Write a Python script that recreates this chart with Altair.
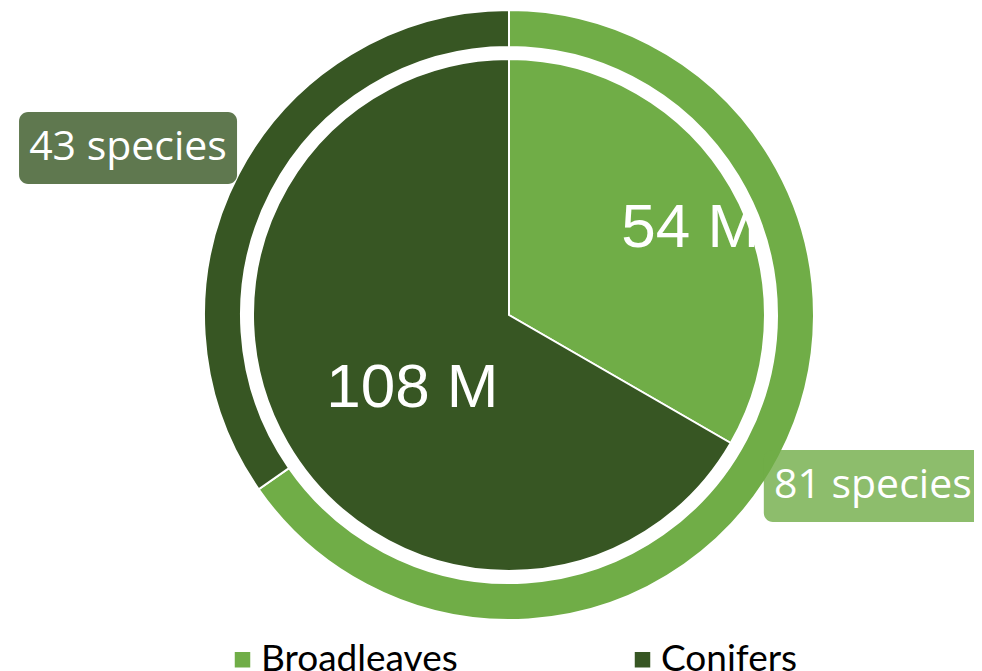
import altair as alt
import pandas as pd

# ---- data ----
categories = ["Broadleaves", "Conifers"]
volume_m = [54, 108]          # inner pie (millions)
species_n = [81, 43]          # outer ring (number of species)
colors = ["#70AD47", "#375623"]

# ---- layout constants ----
W, H = 930, 614
CX, CY = W / 2, H / 2

inner = pd.DataFrame({"category": categories, "volume": volume_m})
outer = pd.DataFrame({"category": categories, "species": species_n})

legend = alt.Legend(
    orient="none", legendX=180, legendY=633, direction="horizontal",
    title=None, symbolType="square", symbolSize=240, symbolStrokeWidth=0,
    labelFont="Lato", labelFontSize=37, labelColor="#000000",
    labelLimit=500, labelOffset=0, columnPadding=166,
)
color = alt.Color("category:N", scale=alt.Scale(domain=categories, range=colors), legend=legend)
order = alt.Order("category:N", sort="ascending")

ring = alt.Chart(outer).mark_arc(
    outerRadius=305, innerRadius=268, stroke="white", strokeWidth=2
).encode(theta=alt.Theta("species:Q", stack=True), color=color, order=order)

pie = alt.Chart(inner).mark_arc(
    outerRadius=256, stroke="white", strokeWidth=2
).encode(theta=alt.Theta("volume:Q", stack=True), color=color, order=order)

inner_text = alt.Chart(inner).transform_joinaggregate(
    total="sum(volume)"
).transform_window(
    cum="sum(volume)", sort=[alt.SortField("category")]
).transform_calculate(
    a="(datum.cum - datum.volume / 2) / datum.total * 2 * PI + (datum.category == 'Broadleaves' ? 0.075 : -0.122)",
    r="datum.category == 'Broadleaves' ? 201 : 121",
    px=f"{CX} + datum.r * sin(datum.a)",
    py=f"{CY} - datum.r * cos(datum.a)",
    label="datum.volume + ' M'",
).mark_text(font="Liberation Sans", fontSize=62, color="white").encode(
    x=alt.X("px:Q", scale=None, axis=None),
    y=alt.Y("py:Q", scale=None, axis=None),
    text="label:N",
)

outer_pos = alt.Chart(outer).transform_joinaggregate(
    total="sum(species)"
).transform_window(
    cum="sum(species)", sort=[alt.SortField("category")]
).transform_calculate(
    a="(datum.cum - datum.species / 2) / datum.total * 2 * PI + (datum.category == 'Broadleaves' ? -0.042 : -0.068)",
    r="datum.category == 'Broadleaves' ? 402 : 416",
    px=f"{CX} + datum.r * sin(datum.a)",
    py=f"{CY} - datum.r * cos(datum.a)",
    x1="datum.px - 109", x2="datum.px + 109",
    y1="datum.py - 36", y2="datum.py + 36",
    label="datum.species + ' species'",
)

boxes = outer_pos.mark_rect(cornerRadius=9, opacity=0.8).encode(
    x=alt.X("x1:Q", scale=None, axis=None), x2="x2:Q",
    y=alt.Y("y1:Q", scale=None, axis=None), y2="y2:Q",
    color=color,
)
box_text = outer_pos.mark_text(font="Open Sans", fontSize=41, color="white").encode(
    x=alt.X("px:Q", scale=None, axis=None),
    y=alt.Y("py:Q", scale=None, axis=None),
    text="label:N",
)

chart = alt.layer(ring, pie, inner_text, boxes, box_text).resolve_scale(
    theta="independent"
).properties(
    width=W, height=H, autosize="none",
    padding={"left": 36, "top": 0, "right": 0, "bottom": 49},
).configure_view(stroke=None)

chart.save("out.html", embed_options={"renderer": "svg", "actions": False})
